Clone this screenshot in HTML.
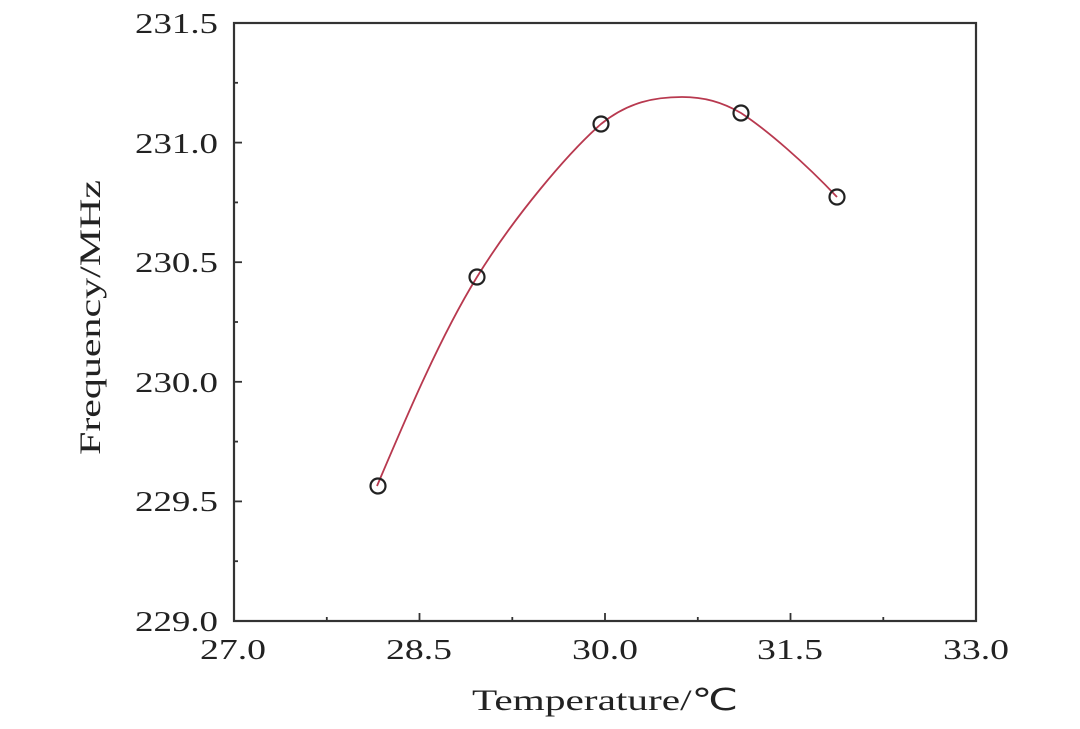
<!DOCTYPE html>
<html><head><meta charset="utf-8"><style>html,body{margin:0;padding:0;background:#fff}</style></head>
<body>
<svg width="1080" height="724" viewBox="0 0 1080 724" xmlns="http://www.w3.org/2000/svg" font-family="'Liberation Serif', serif" fill="#222">
<rect x="234" y="23" width="742" height="598" fill="none" stroke="#333" stroke-width="2.2"/>
<g stroke="#333" stroke-width="1.8">
<line x1="234" y1="142.6" x2="242" y2="142.6"/>
<line x1="234" y1="262.2" x2="242" y2="262.2"/>
<line x1="234" y1="381.8" x2="242" y2="381.8"/>
<line x1="234" y1="501.4" x2="242" y2="501.4"/>
<line x1="234" y1="82.8" x2="238" y2="82.8"/>
<line x1="234" y1="202.4" x2="238" y2="202.4"/>
<line x1="234" y1="322" x2="238" y2="322"/>
<line x1="234" y1="441.6" x2="238" y2="441.6"/>
<line x1="234" y1="561.2" x2="238" y2="561.2"/>
<line x1="419.5" y1="621" x2="419.5" y2="613"/>
<line x1="605" y1="621" x2="605" y2="613"/>
<line x1="790.5" y1="621" x2="790.5" y2="613"/>
<line x1="326.8" y1="621" x2="326.8" y2="617"/>
<line x1="512.3" y1="621" x2="512.3" y2="617"/>
<line x1="697.8" y1="621" x2="697.8" y2="617"/>
<line x1="883.3" y1="621" x2="883.3" y2="617"/>
</g>
<g font-size="29">
<text x="135" y="33" textLength="83" lengthAdjust="spacingAndGlyphs">231.5</text>
<text x="135" y="153" textLength="83" lengthAdjust="spacingAndGlyphs">231.0</text>
<text x="135" y="272" textLength="83" lengthAdjust="spacingAndGlyphs">230.5</text>
<text x="135" y="392" textLength="83" lengthAdjust="spacingAndGlyphs">230.0</text>
<text x="135" y="511" textLength="83" lengthAdjust="spacingAndGlyphs">229.5</text>
<text x="135" y="631" textLength="83" lengthAdjust="spacingAndGlyphs">229.0</text>
</g>
<g font-size="29">
<text x="200" y="659" textLength="66" lengthAdjust="spacingAndGlyphs">27.0</text>
<text x="386" y="659" textLength="66" lengthAdjust="spacingAndGlyphs">28.5</text>
<text x="572" y="659" textLength="66" lengthAdjust="spacingAndGlyphs">30.0</text>
<text x="757" y="659" textLength="66" lengthAdjust="spacingAndGlyphs">31.5</text>
<text x="943" y="659" textLength="66" lengthAdjust="spacingAndGlyphs">33.0</text>
</g>
<text x="472" y="710" font-size="30" textLength="266" lengthAdjust="spacingAndGlyphs">Temperature/℃</text>
<text transform="translate(100,455) rotate(-90)" font-size="30" textLength="275" lengthAdjust="spacingAndGlyphs">Frequency/MHz</text>
<path d="M377,486 C405,420 440,337 477,277 C514,217 567,154 601,124 C628,102 655,97 682,97 C704,97 722,102 741,113 C767,130 805,163 837,197" fill="none" stroke="#b8394f" stroke-width="1.8"/>
<g fill="none" stroke="#222" stroke-width="2.2">
<circle cx="378" cy="486" r="7.5"/>
<circle cx="477" cy="277" r="7.5"/>
<circle cx="601" cy="124" r="7.5"/>
<circle cx="741" cy="113" r="7.5"/>
<circle cx="837" cy="197" r="7.5"/>
</g>
</svg>
</body></html>
